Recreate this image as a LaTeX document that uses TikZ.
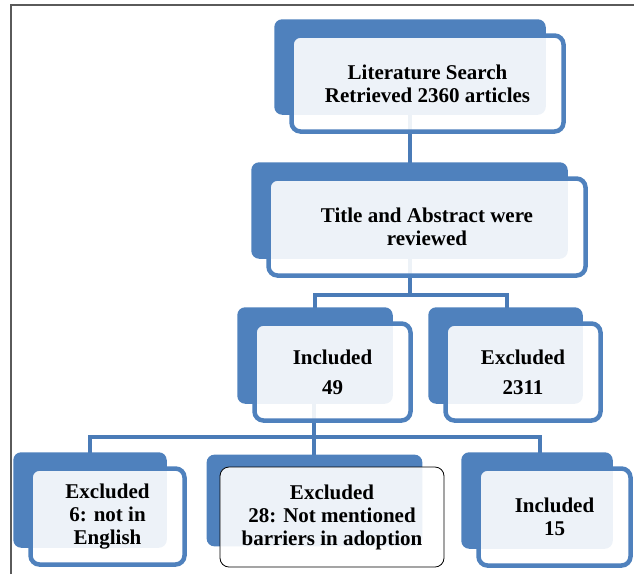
\documentclass[tikz,border=0pt]{standalone}
\usepackage{fontspec}
\setmainfont{Liberation Serif}
\usepackage{tikz}
\usetikzlibrary{calc,backgrounds}
\definecolor{boxBlue}{HTML}{4F81BD}
\definecolor{lineBlue}{HTML}{4A7BB7}
\definecolor{frameGray}{HTML}{5A5A5A}

\begin{document}
\begin{tikzpicture}[
    x=1pt, y=-1pt,
    font=\bfseries\fontsize{21}{23}\selectfont,
    frontbox/.style={rounded corners=9pt, draw=boxBlue, line width=4.5pt,
                     fill=white, fill opacity=0.9, text opacity=1,
                     align=center, inner sep=0pt},
    backbox/.style={rounded corners=8pt, fill=boxBlue},
    conn/.style={line width=4.5pt, draw=lineBlue},
  ]
  \useasboundingbox (0,0) rectangle (634,574);
  % page frame
  \draw[frameGray, line width=1.5pt] (11,574) -- (11,5) -- (634,5);
  % nodes
  \node[frontbox, minimum width=272pt, minimum height=96pt] (lit) at (427.5,83.5)
        {Literature Search\\Retrieved 2360 articles};
  \node[frontbox, minimum width=317pt, minimum height=97pt] (tar) at (427,227)
        {Title and Abstract were\\reviewed};
  \node[frontbox, minimum width=156pt, minimum height=97pt] (inc) at (332.5,372)
        {Included\\[7pt]49};
  \node[frontbox, minimum width=155pt, minimum height=97pt] (exc) at (523,372)
        {Excluded\\[7pt]2311};
  \node[frontbox, minimum width=154pt, minimum height=96pt] (exe) at (107.5,516.5)
        {Excluded\\6: not in\\English};
  \node[frontbox, draw=black, line width=0.8pt, minimum width=224pt, minimum height=100pt]
        (exn) at (332,517) {Excluded\\28: Not mentioned\\barriers in adoption};
  \node[frontbox, minimum width=152pt, minimum height=97pt] (inf) at (554.5,517)
        {Included\\15};
  % junctions
  \coordinate (s1)  at (410,295);
  \coordinate (b1l) at (315,295);
  \coordinate (b1r) at (507,295);
  \coordinate (s2)  at (314,437);
  \coordinate (b2l) at (90,437);
  \coordinate (b2r) at (540,437);
  \begin{scope}[on background layer]
    % connectors
    \draw[conn] (lit.center -| s1) -- (tar.center -| s1);
    \draw[conn] (tar.center -| s1) -- (s1);
    \draw[conn] (inc.center -| b1l) |- (b1r) -- (exc.center -| b1r);
    \draw[conn] (inc.center -| s2) -- (exn.center -| s2);
    \draw[conn] (exe.center -| b2l) |- (b2r) -- (inf.center -| b2r);
    % shadow boxes
    \foreach \n in {lit,tar,inc,exc,exe,inf}
      \fill[backbox] ($(\n.north west)+(-15,-14)$) rectangle ($(\n.south east)+(-20,-19)$);
    \fill[backbox] ($(exn.north west)+(-13,-12)$) rectangle ($(exn.south east)+(-22,-21)$);
  \end{scope}
\end{tikzpicture}
\end{document}
